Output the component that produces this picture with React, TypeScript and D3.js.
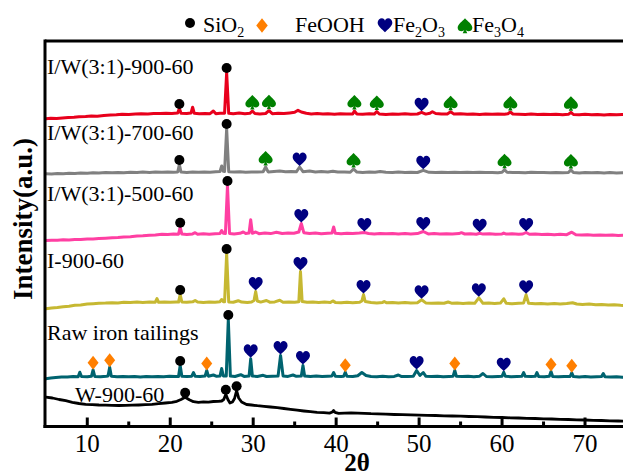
import React from "react";
import * as d3 from "d3";

// ---------- data ----------
const SERIES_NAMES = [
  "I/W(3:1)-900-60",
  "I/W(3:1)-700-60",
  "I/W(3:1)-500-60",
  "I-900-60",
  "Raw iron tailings",
  "W-900-60",
];
const SERIES_OFFSETS = [3070, 2520, 1850, 1170, 470, 30];
const THETA_TICKS = [10, 20, 30, 40, 50, 60, 70];
const THETA_MINOR = [15, 25, 35, 45, 55, 65, 75];

type Pt = [number, number];

const iw900: Pt[] = [[5,7],[5.6,12],[6.3,10],[7,16],[7.7,20],[8.4,22],[9,27],[9.8,29],[10.5,35],[11.2,33],[12,41],[12.8,44],[13.5,47],[14.2,52],[15,50],[15.8,55],[16.5,58],[17.3,56],[18,61],[18.8,59],[19.5,63],[20.2,61],[20.9,64],[21.1,110],[21.3,62],[22,60],[22.5,64],[22.7,123],[22.9,62],[23.5,57],[24.2,60],[24.8,58],[25.2,85],[25.5,58],[26,62],[26.55,63],[26.8,470],[27.05,62],[27.6,58],[28.3,64],[29,57],[29.6,62],[29.9,85],[30.2,60],[30.8,56],[31.5,60],[31.9,88],[32.3,58],[33,62],[33.7,60],[34.4,66],[35,72],[35.4,92],[35.8,75],[36.4,62],[37,56],[37.7,60],[38.4,54],[39,58],[39.8,52],[40.5,57],[41.2,55],[42,56],[42.2,85],[42.5,56],[43.2,52],[44,57],[44.6,54],[44.9,80],[45.2,55],[46,50],[46.8,54],[47.5,52],[48.3,57],[49,53],[49.8,55],[50.3,72],[50.8,54],[51.3,62],[51.6,78],[52,60],[52.7,54],[53.4,56],[53.8,78],[54.2,54],[55,57],[55.8,52],[56.5,55],[57.3,50],[58,54],[58.8,52],[59.5,56],[60.3,53],[60.7,58],[61,75],[61.3,55],[62,52],[62.8,50],[63.5,54],[64.3,49],[65,53],[65.8,50],[66.5,52],[67.3,48],[68,52],[68.3,72],[68.6,50],[69.3,47],[70,52],[70.8,48],[71.5,51],[72.3,46],[73,50],[73.8,47],[74.5,49],[75,48]];

const iw700: Pt[] = [[5,7],[5.7,5],[6.4,10],[7.1,8],[7.8,12],[8.5,10],[9.2,15],[10,13],[10.7,17],[11.4,15],[12.2,19],[13,17],[13.7,21],[14.4,18],[15.2,22],[16,20],[16.7,24],[17.5,21],[18.2,25],[19,22],[19.7,26],[20.4,23],[20.9,25],[21.1,100],[21.3,24],[22,21],[22.7,25],[23.4,22],[24.1,26],[24.8,23],[25.5,27],[26,30],[26.2,85],[26.4,32],[26.55,30],[26.8,460],[27.05,28],[27.7,24],[28.4,27],[29.1,23],[29.8,26],[30.5,24],[31.2,27],[31.5,75],[31.8,26],[32.5,30],[33.2,34],[33.9,28],[34.6,31],[35.2,27],[35.6,75],[36,28],[36.8,35],[37.5,26],[38.2,29],[39,25],[39.6,33],[40.2,24],[41,26],[41.7,22],[42.1,55],[42.5,24],[43.2,21],[44,25],[44.7,22],[45.3,30],[46,23],[46.8,20],[47.5,24],[48.3,21],[49,23],[49.8,20],[50.5,42],[51.2,22],[52,19],[52.7,23],[53.5,20],[54.3,22],[55,19],[55.8,23],[56.5,20],[57.3,22],[58,19],[58.8,21],[59.5,18],[60,22],[60.3,48],[60.6,22],[61.3,19],[62,21],[62.8,18],[63.5,22],[64.3,19],[65,21],[65.8,18],[66.5,20],[67.3,17],[68,20],[68.3,46],[68.6,19],[69.3,16],[70,20],[70.8,17],[71.5,19],[72.3,16],[73,19],[73.8,16],[74.5,18],[75,17]];

const iw500: Pt[] = [[5,10],[5.7,13],[6.4,12],[7.1,17],[7.8,16],[8.5,21],[9.2,20],[10,25],[10.7,26],[11.4,30],[12.2,33],[13,37],[13.7,40],[14.4,45],[15.2,48],[16,54],[16.7,57],[17.5,63],[18.2,66],[19,72],[19.7,70],[20.4,75],[21,73],[21.2,143],[21.4,74],[22,70],[22.7,76],[23,88],[23.3,73],[24,77],[24.7,72],[25.4,78],[26,80],[26.2,110],[26.4,82],[26.65,80],[26.9,560],[27.15,80],[27.7,76],[28.4,82],[28.8,95],[29.1,80],[29.5,84],[29.7,217],[29.9,82],[30.3,95],[30.7,78],[31.4,84],[32.1,79],[32.8,92],[33.5,80],[34.2,85],[34.9,82],[35.5,95],[35.8,180],[36.1,88],[36.8,80],[37.5,84],[38.2,78],[39,83],[39.5,85],[39.7,145],[39.9,82],[40.6,78],[41.3,83],[42,79],[42.8,84],[43.4,90],[43.9,80],[44.6,76],[45.3,81],[46,77],[46.8,80],[47.5,75],[48.3,80],[49,76],[49.8,79],[50.5,100],[51.1,76],[51.8,80],[52.5,75],[53.3,78],[54,74],[54.8,79],[55.1,88],[55.5,75],[56.2,77],[56.9,73],[57.3,82],[57.7,74],[58.5,78],[59.2,73],[60,76],[60.2,84],[60.5,74],[61.2,77],[62,72],[62.5,75],[62.9,90],[63.3,72],[64,75],[64.8,70],[65.5,73],[66.3,68],[67,72],[67.8,68],[68.4,93],[68.9,68],[69.6,64],[70.3,68],[71,63],[71.8,66],[72.5,62],[73.3,65],[74,61],[75,62]];

const i900: Pt[] = [[5,7],[5.7,15],[6.4,20],[7.1,28],[7.8,33],[8.5,42],[9.2,46],[10,55],[10.7,58],[11.4,62],[12.2,64],[13,68],[13.7,66],[14.4,72],[15.2,70],[16,74],[16.7,71],[17.5,75],[18.2,73],[18.4,110],[18.6,72],[19.3,76],[20,72],[20.7,76],[21,74],[21.2,150],[21.4,75],[22,72],[22.7,77],[23,90],[23.3,74],[24,70],[24.7,76],[25.4,72],[26,78],[26.2,100],[26.4,78],[26.55,77],[26.8,560],[27.05,76],[27.6,72],[28.2,88],[28.6,74],[29.3,70],[29.8,75],[30.1,90],[30.3,180],[30.5,85],[30.9,74],[31.6,90],[32,73],[32.6,76],[33.2,92],[33.6,72],[34.3,76],[35,72],[35.5,78],[35.7,380],[35.9,80],[36.5,72],[37.2,76],[37.9,70],[38.6,74],[39.3,70],[39.6,86],[39.9,71],[40.6,68],[41.3,73],[42,68],[42.8,72],[43.1,85],[43.3,150],[43.5,80],[44.2,70],[44.9,66],[45.6,71],[45.8,80],[46.1,67],[46.8,71],[47.5,66],[48.3,70],[49,65],[49.8,68],[50.3,97],[50.8,66],[51.5,62],[52.3,66],[53,62],[53.5,75],[53.9,63],[54.6,66],[55.3,61],[56,65],[56.7,62],[57.2,117],[57.7,62],[58.4,66],[59.1,60],[59.8,64],[60.2,107],[60.5,62],[61.2,58],[62,62],[62.6,66],[62.9,147],[63.2,62],[64,57],[64.7,61],[65.5,56],[66.3,60],[67,55],[67.8,59],[68.5,68],[69,55],[69.7,50],[70.5,54],[71.3,47],[72,50],[72.8,44],[73.5,47],[74.3,42],[75,40]];

const raw: Pt[] = [[5,7],[5.6,15],[6.2,20],[6.9,26],[7.6,24],[8.3,30],[8.9,28],[9.1,73],[9.3,30],[10,27],[10.5,32],[10.7,97],[10.9,31],[11.6,28],[12.3,32],[12.5,34],[12.7,123],[12.9,33],[13.6,28],[14.3,31],[15,27],[15.7,30],[16.4,26],[17.1,30],[17.8,27],[18.5,31],[19.2,28],[19.9,32],[20.6,29],[21,31],[21.2,140],[21.4,32],[22,29],[22.6,33],[22.8,70],[23,33],[23.6,30],[24.2,34],[24.4,90],[24.6,33],[25.2,45],[25.6,32],[26,34],[26.2,110],[26.4,36],[26.75,34],[27,600],[27.25,34],[27.8,30],[28.5,48],[28.9,31],[29.5,34],[29.7,207],[29.9,35],[30.5,30],[31.2,42],[31.6,30],[32.3,33],[33,35],[33.3,240],[33.6,36],[34.2,31],[34.8,45],[35.2,32],[35.8,36],[36,140],[36.2,36],[36.9,30],[37.6,34],[38.3,29],[39,33],[39.5,36],[39.7,70],[39.9,33],[40.6,30],[40.9,33],[41.1,73],[41.3,32],[42,30],[42.6,38],[43.1,70],[43.6,40],[44.2,30],[44.9,28],[45.6,32],[46.3,27],[47,31],[47.5,45],[47.9,29],[48.6,31],[49.3,33],[49.7,90],[50.1,40],[50.5,70],[50.8,33],[51.5,30],[52.2,33],[52.9,28],[53.6,31],[54.1,33],[54.3,90],[54.5,32],[55.2,29],[55.9,32],[56.6,28],[57.3,33],[57.7,60],[58.1,30],[58.8,27],[59.5,31],[60,33],[60.2,73],[60.4,32],[61.1,28],[61.8,31],[62.4,33],[62.6,70],[62.8,32],[63.5,29],[64,32],[64.2,70],[64.4,31],[65.1,28],[65.7,32],[65.9,80],[66.1,31],[66.8,27],[67.5,31],[68.2,30],[68.4,67],[68.6,29],[69.3,26],[70,29],[70.7,25],[71.4,28],[72,30],[72.2,60],[72.4,28],[73.1,24],[73.8,27],[74.5,23],[75,25]];

const w900: Pt[] = [[5,263],[5.8,255],[6.6,240],[7.4,228],[8.2,212],[9,200],[9.8,192],[10.6,188],[11.4,185],[12.2,184],[13,182],[13.8,180],[14.6,181],[15.4,183],[16.2,185],[17,188],[17.8,192],[18.6,198],[19.4,205],[20.2,212],[20.8,222],[21.3,240],[21.8,262],[22.3,238],[22.8,218],[23.4,212],[24,216],[24.6,214],[25.2,220],[25.8,222],[26.2,225],[26.45,240],[26.7,292],[26.95,240],[27.2,205],[27.5,215],[27.75,250],[28,328],[28.25,255],[28.6,215],[29.2,190],[29.8,185],[30.5,178],[31.3,172],[32.1,165],[32.9,158],[33.7,150],[34.5,142],[35.3,133],[36.1,125],[36.9,118],[37.7,112],[38.5,108],[39.2,104],[39.55,115],[39.7,130],[39.85,112],[40.3,102],[41,104],[41.8,106],[42.6,104],[43.4,102],[44.2,98],[45,96],[46,93],[47,90],[48,88],[49,86],[50,84],[51,82],[52,80],[53,77],[54,75],[55,73],[56,70],[57,68],[58,65],[59,62],[60,60],[61,57],[62,55],[63,52],[64,50],[65,47],[66,45],[67,42],[68,40],[69,37],[70,35],[71,32],[72,30],[73,27],[74,25],[75,23]];

const SERIES_DATA: Pt[][] = [iw900, iw700, iw500, i900, raw, w900];

type Mk = [number, string];
const MARKS_IW900: Mk[] = [[21.1,"SiO2"],[26.8,"SiO2"],[29.9,"Fe3O4"],[31.9,"Fe3O4"],[42.2,"Fe3O4"],[44.9,"Fe3O4"],[50.3,"Fe2O3"],[53.8,"Fe3O4"],[61,"Fe3O4"],[68.3,"Fe3O4"]];
const MARKS_IW700: Mk[] = [[21.1,"SiO2"],[26.8,"SiO2"],[31.5,"Fe3O4"],[35.6,"Fe2O3"],[42.1,"Fe3O4"],[50.5,"Fe2O3"],[60.3,"Fe3O4"],[68.3,"Fe3O4"]];
const MARKS_IW500: Mk[] = [[21.2,"SiO2"],[26.9,"SiO2"],[35.8,"Fe2O3"],[43.4,"Fe2O3"],[50.5,"Fe2O3"],[57.3,"Fe2O3"],[62.9,"Fe2O3"]];
const MARKS_I900: Mk[] = [[21.2,"SiO2"],[26.8,"SiO2"],[30.3,"Fe2O3"],[35.7,"Fe2O3"],[43.3,"Fe2O3"],[50.3,"Fe2O3"],[57.2,"Fe2O3"],[62.9,"Fe2O3"]];
const MARKS_RAW: Mk[] = [[10.7,"FeOOH"],[12.7,"FeOOH"],[21.2,"SiO2"],[24.4,"FeOOH"],[27,"SiO2"],[29.7,"Fe2O3"],[33.3,"Fe2O3"],[36,"Fe2O3"],[41.1,"FeOOH"],[49.7,"Fe2O3"],[54.3,"FeOOH"],[60.2,"Fe2O3"],[65.9,"FeOOH"],[68.4,"FeOOH"]];
const MARKS_W900: Mk[] = [[21.8,"SiO2"],[26.7,"SiO2"],[28,"SiO2"]];
const SERIES_MARKS: Mk[][] = [MARKS_IW900, MARKS_IW700, MARKS_IW500, MARKS_I900, MARKS_RAW, MARKS_W900];

// ---------- layout / style ----------
const W = 623, H = 476;
const PLOT = { left: 45.8, right: 626.5, top: 41, bottom: 426.5 };
const COLORS = ["#e8001c", "#808080", "#ff3fa2", "#c6b832", "#00636f", "#000000"];
const LABEL_POS = [[47, 74], [47, 140], [47, 201], [47, 268], [47, 340], [75, 402]];
const FONT = "'Liberation Serif', 'Times New Roman', serif";

const HEART = "M0,6.5 C-2.5,3.8 -7,0.8 -7,-2.6 C-7,-5.4 -5,-7 -3,-7 C-1.4,-7 -0.3,-6 0,-4.6 C0.3,-6 1.4,-7 3,-7 C5,-7 7,-5.4 7,-2.6 C7,0.8 2.5,3.8 0,6.5 Z";
const SPADE = "M0,-7.5 C-2.5,-4.5 -7,-1.8 -7,1.6 C-7,4 -5.2,5 -3.4,5 C-1.9,5 -1,4.2 -0.6,3.6 L-2.2,7 L2.2,7 L0.6,3.6 C1,4.2 1.9,5 3.4,5 C5.2,5 7,4 7,1.6 C7,-1.8 2.5,-4.5 0,-7.5 Z";
const DIAMOND = "M0,-7 L5.5,0 L0,7 L-5.5,0 Z";

const MARK_STYLE: Record<string, { fill: string; lift: number }> = {
  SiO2: { fill: "#000000", lift: 4.5 },
  FeOOH: { fill: "#ff7f00", lift: 7 },
  Fe2O3: { fill: "#000080", lift: 7.5 },
  Fe3O4: { fill: "#008000", lift: 8.5 },
};

function Marker({ kind, x, y, scale = 1 }: { kind: string; x: number; y: number; scale?: number }) {
  const fill = MARK_STYLE[kind].fill;
  const t = `translate(${x},${y}) scale(${scale})`;
  if (kind === "SiO2") return <circle cx={x} cy={y} r={5 * scale} fill={fill} />;
  const d = kind === "FeOOH" ? DIAMOND : kind === "Fe2O3" ? HEART : SPADE;
  return <path d={d} transform={t} fill={fill} />;
}

export default function App() {
  const x = d3.scaleLinear().domain([5, 75]).range([PLOT.left, PLOT.right]);
  const y = d3.scaleLinear().domain([0, 3855]).range([PLOT.bottom, PLOT.top]);

  return (
    <svg width={W} height={H} style={{ position: "absolute", left: 0, top: 0, background: "#fff" }} fontFamily={FONT}>
      {/* legend */}
      <g>
        <circle cx={190} cy={23} r={5} fill="#000" />
        <text x={203} y={32} fontSize={22}>SiO<tspan fontSize={14} dy={5}>2</tspan></text>
        <path d={DIAMOND} transform="translate(262,25.5) scale(1.05)" fill="#ff7f00" />
        <text x={295} y={32} fontSize={22}>FeOOH</text>
        <path d={HEART} transform="translate(385,25.5) scale(1.05)" fill="#000080" />
        <text x={393} y={32} fontSize={22}>Fe<tspan fontSize={14} dy={5}>2</tspan><tspan dy={-5}>O</tspan><tspan fontSize={14} dy={5}>3</tspan></text>
        <path d={SPADE} transform="translate(465,26) scale(1.05)" fill="#008000" />
        <text x={472} y={32} fontSize={22}>Fe<tspan fontSize={14} dy={5}>3</tspan><tspan dy={-5}>O</tspan><tspan fontSize={14} dy={5}>4</tspan></text>
      </g>

      {/* curves */}
      {SERIES_DATA.map((data, i) => {
        const off = SERIES_OFFSETS[i];
        const line = d3.line<Pt>().x((d) => x(d[0])).y((d) => y(d[1] + off));
        return (
          <path key={i} d={line(data) || ""} fill="none" stroke={COLORS[i]} strokeWidth={i === 5 ? 2.8 : 3} strokeLinejoin="round" />
        );
      })}

      {/* markers */}
      {SERIES_MARKS.map((marks, i) =>
        marks.map(([t, kind], j) => {
          const near = SERIES_DATA[i].filter((d) => Math.abs(d[0] - t) <= 0.35);
          const top = d3.max(near, (d) => d[1]) ?? 0;
          const py = y(top + SERIES_OFFSETS[i]) - MARK_STYLE[kind].lift;
          return <Marker key={`${i}-${j}`} kind={kind} x={x(t)} y={py} />;
        })
      )}

      {/* series labels */}
      {SERIES_NAMES.map((n, i) => (
        <text key={n} x={LABEL_POS[i][0]} y={LABEL_POS[i][1]} fontSize={22}>{n}</text>
      ))}

      {/* axes frame */}
      <line x1={45} x2={W} y1={PLOT.top} y2={PLOT.top} stroke="#000" strokeWidth={3} />
      <line x1={45} x2={45} y1={PLOT.top - 1.5} y2={PLOT.bottom + 1.5} stroke="#000" strokeWidth={3} />
      <line x1={43.5} x2={W} y1={PLOT.bottom} y2={PLOT.bottom} stroke="#000" strokeWidth={3} />

      {THETA_TICKS.map((t) => (
        <g key={t}>
          <line x1={x(t)} x2={x(t)} y1={PLOT.bottom} y2={PLOT.bottom - 9} stroke="#000" strokeWidth={3} />
          <text x={x(t)} y={452} fontSize={25} textAnchor="middle">{t}</text>
        </g>
      ))}
      {THETA_MINOR.map((t) => (
        <line key={t} x1={x(t)} x2={x(t)} y1={PLOT.bottom} y2={PLOT.bottom - 5} stroke="#000" strokeWidth={3} />
      ))}

      <text x={357} y={471} fontSize={25} fontWeight="bold" textAnchor="middle">2θ</text>
      <text transform="translate(32,219) rotate(-90)" fontSize={27} fontWeight="bold" textAnchor="middle">Intensity(a.u.)</text>
    </svg>
  );
}
